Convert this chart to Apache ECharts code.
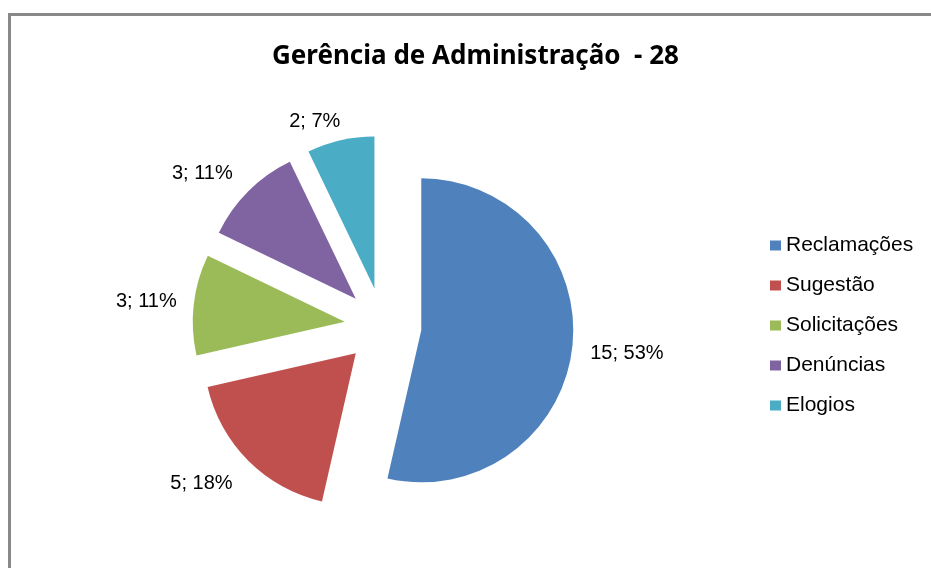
<!DOCTYPE html>
<html>
<head>
<meta charset="utf-8">
<script src="https://cdn.jsdelivr.net/npm/echarts@6/dist/echarts.min.js"></script>
<style>html,body{margin:0;padding:0;background:#fff;}#c{width:931px;height:568px;}</style>
</head>
<body>
<div id="c"></div>
<script>
const categories = ['Reclamações', 'Sugestão', 'Solicitações', 'Denúncias', 'Elogios'];
const values = [15, 5, 3, 3, 2];
const percents = [53, 18, 11, 11, 7];
const colors = ['#4F81BD', '#C0504D', '#9BBB59', '#8064A2', '#4BACC6'];
const titleText = 'Gerência de Administração  - 28';

const labelLens = [[10, 5], [25, 0], [10, 4], [22, 4], [19, 4]];
const labelShift = [[-2, 5], [7, 5], [2, -2], [9, -2], [13, 0]];

const chart = echarts.init(document.getElementById('c'));
chart.setOption({
  animation: false,
  graphic: [{
    type: 'rect', shape: { x: 9.5, y: 14.5, width: 1000, height: 1000 },
    style: { fill: 'none', stroke: '#898989', lineWidth: 3 }, silent: true
  }],
  title: {
    text: titleText, left: 267, top: 39,
    textStyle: { fontFamily: 'Noto Sans', fontSize: 26, fontWeight: 'bold', color: '#000' }
  },
  legend: {
    orient: 'vertical', left: 765, top: 230, itemGap: 19,
    itemWidth: 11, itemHeight: 10, icon: 'rect',
    textStyle: { fontFamily: 'Liberation Sans', fontSize: 21, color: '#000' },
    data: categories
  },
  series: [{
    type: 'pie', center: [383, 326], radius: 152, startAngle: 90, clockwise: true,
    selectedMode: 'multiple', selectedOffset: 38.5, avoidLabelOverlap: false,
    label: {
      show: true, position: 'outside', fontFamily: 'Liberation Sans', fontSize: 20, color: '#000',
      formatter: p => p.value + '; ' + percents[p.dataIndex] + '%'
    },
    labelLine: { show: false },
    labelLayout: p => ({ dx: labelShift[p.dataIndex][0], dy: labelShift[p.dataIndex][1] }),
    emphasis: { disabled: true },
    data: categories.map((n, i) => ({
      name: n, value: values[i], selected: true,
      itemStyle: { color: colors[i] },
      labelLine: { show: false, length: labelLens[i][0], length2: labelLens[i][1] }
    }))
  }]
});
</script>
</body>
</html>
